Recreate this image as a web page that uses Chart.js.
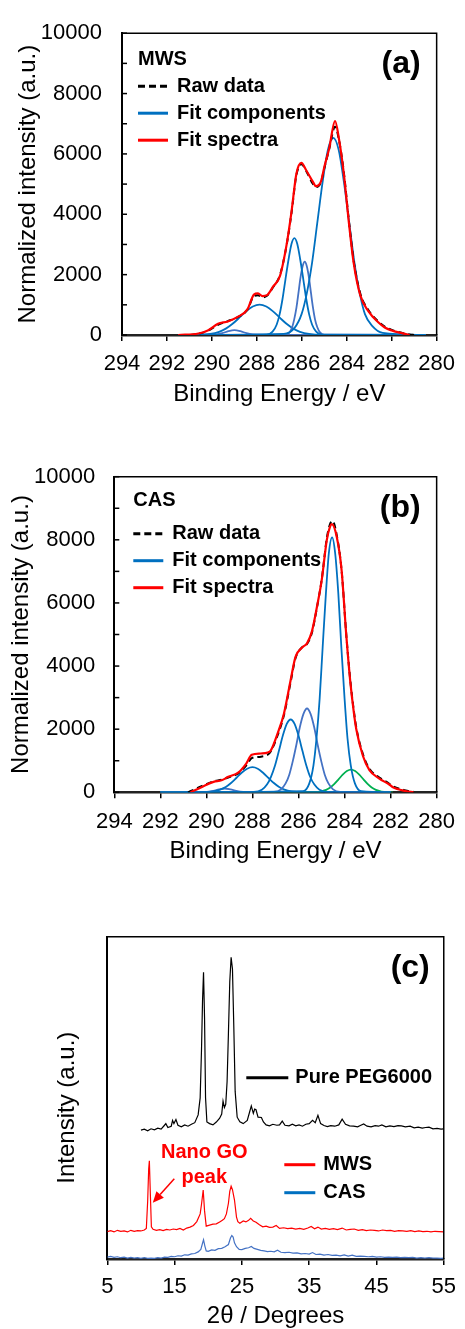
<!DOCTYPE html>
<html>
<head>
<meta charset="utf-8">
<script src="https://cdn.jsdelivr.net/npm/chart.js@4.4.1/dist/chart.umd.min.js"></script>
<style>
  body { margin: 0; background: #fff; }
  canvas { position: absolute; left: 0; }
</style>
</head>
<body>
<canvas id="xps-mws" width="465" height="420" style="top:0"></canvas>
<canvas id="xps-cas" width="465" height="440" style="top:430px"></canvas>
<canvas id="xrd" width="465" height="449" style="top:880px"></canvas>
<script>
// ---- (a) XPS MWS ----
const mwsFitE = [291.5, 290.6, 290.16, 289.73, 289.29, 288.85, 288.42, 288.13, 287.95, 287.75, 287.55, 287.28, 286.97, 286.67, 286.46, 286.24, 286.02, 285.8, 285.51, 285.37, 285.15, 285.0, 284.78, 284.52, 284.35, 284.13, 283.91, 283.69, 283.4, 283.04, 282.6, 282.31, 282.0, 281.6, 281.2];
const mwsFitI = [0, 50, 160, 370, 450, 600, 850, 1340, 1380, 1290, 1320, 1600, 1960, 3020, 4070, 5340, 5700, 5450, 5080, 4930, 5080, 5560, 6190, 7090, 6510, 5340, 3760, 2380, 1320, 790, 420, 250, 150, 70, 0];
const mwsRawE = [291.0, 290.6, 290.16, 289.73, 289.29, 288.85, 288.42, 288.13, 287.95, 287.75, 287.55, 287.28, 286.97, 286.67, 286.46, 286.24, 286.02, 285.8, 285.51, 285.37, 285.15, 285.0, 284.78, 284.52, 284.35, 284.13, 283.91, 283.69, 283.4, 283.04, 282.6, 282.31, 282.0, 281.6, 281.2, 281.0];
const mwsRawI = [0, 40, 150, 340, 460, 590, 840, 1290, 1320, 1250, 1300, 1580, 1990, 3000, 4030, 5300, 5660, 5430, 5010, 4900, 5060, 5520, 6160, 6900, 6480, 5400, 3820, 2450, 1380, 830, 450, 280, 170, 80, 20, 0];
const mwsC1E = [291.5, 286.8, 286.33, 286.01, 285.78, 285.54, 285.31, 285.07, 284.84, 284.6, 284.36, 284.13, 283.89, 283.66, 283.42, 283.19, 282.87, 282.4, 280.5];
const mwsC1I = [0, 40, 228, 691, 1371, 2410, 3722, 5087, 6135, 6530, 6135, 5087, 3722, 2410, 1371, 691, 300, 70, 0];
const mwsC2E = [291.5, 287.56, 287.30, 287.12, 286.99, 286.86, 286.73, 286.59, 286.46, 286.33, 286.20, 286.07, 285.93, 285.80, 285.67, 285.54, 285.36, 285.10, 280.5];
const mwsC2I = [0, 14, 112, 340, 674, 1184, 1830, 2501, 3016, 3210, 3016, 2501, 1830, 1184, 674, 340, 112, 14, 0];
const mwsC3E = [291.5, 286.74, 286.55, 286.43, 286.34, 286.24, 286.15, 286.06, 285.96, 285.87, 285.78, 285.68, 285.59, 285.50, 285.41, 285.31, 285.19, 285.00, 280.5];
const mwsC3I = [0, 11, 85, 257, 510, 897, 1385, 1893, 2283, 2430, 2283, 1893, 1385, 897, 510, 257, 85, 11, 0];
const mwsC4E = [291.5, 290.68, 290.08, 289.68, 289.38, 289.08, 288.78, 288.48, 288.18, 287.88, 287.58, 287.28, 286.98, 286.68, 286.38, 286.08, 285.68, 285.08, 280.5];
const mwsC4I = [0, 4, 35, 106, 211, 371, 573, 784, 945, 1006, 945, 784, 573, 371, 211, 106, 35, 4, 0];
const mwsC5E = [291.5, 290.26, 289.81, 289.54, 289.27, 289.0, 288.73, 288.46, 288.19, 287.74, 280.5];
const mwsC5I = [0, 1, 17, 59, 125, 160, 125, 59, 17, 1, 0];

// ---- (b) XPS CAS ----
const casFitE = [290.69, 290.19, 289.69, 289.34, 289.05, 288.62, 288.27, 288.03, 287.63, 287.34, 287.2, 286.91, 286.63, 286.34, 286.13, 285.84, 285.63, 285.42, 285.2, 284.99, 284.77, 284.63, 284.55, 284.34, 284.13, 283.92, 283.75, 283.6, 283.49, 283.2, 282.92, 282.49, 282.07, 281.92, 281.35, 281.0];
const casFitI = [0, 170, 330, 380, 490, 620, 910, 1190, 1230, 1260, 1330, 1860, 2500, 3560, 4290, 4590, 4720, 5090, 5870, 6730, 8000, 8420, 8500, 8100, 7050, 4930, 3500, 2550, 2000, 1150, 700, 435, 254, 170, 40, 0];
const casRawE = [290.8, 290.5, 290.19, 289.69, 289.34, 289.05, 288.62, 288.27, 288.03, 287.63, 287.34, 287.2, 286.91, 286.63, 286.34, 286.13, 285.84, 285.63, 285.42, 285.2, 284.99, 284.77, 284.63, 284.52, 284.34, 284.13, 283.92, 283.75, 283.6, 283.49, 283.2, 282.92, 282.49, 282.07, 281.92, 281.35, 281.0];
const casRawI = [0, 100, 200, 350, 400, 470, 600, 850, 1080, 1130, 1190, 1300, 1800, 2450, 3500, 4250, 4600, 4700, 5050, 5850, 6750, 8050, 8500, 8600, 8150, 7050, 4950, 3550, 2600, 2050, 1200, 750, 470, 280, 200, 60, 10];
const casC1E = [292, 285.80, 285.53, 285.35, 285.22, 285.08, 284.95, 284.81, 284.68, 284.54, 284.41, 284.27, 284.14, 284.00, 283.87, 283.73, 283.55, 283.28, 282];
const casC1I = [0, 35, 282, 855, 1697, 2982, 4606, 6294, 7591, 8080, 7591, 6294, 4606, 2982, 1697, 855, 282, 35, 0];
const casC2E = [292, 287.94, 287.59, 287.37, 287.20, 287.02, 286.85, 286.68, 286.51, 286.34, 286.17, 286.00, 285.83, 285.66, 285.49, 285.31, 285.09, 284.74, 282];
const casC2I = [0, 10, 81, 244, 484, 851, 1315, 1797, 2167, 2307, 2167, 1797, 1315, 851, 484, 244, 81, 10, 0];
const casC3E = [292, 287.07, 286.76, 286.56, 286.40, 286.25, 286.09, 285.94, 285.78, 285.63, 285.48, 285.32, 285.17, 285.01, 284.86, 284.70, 284.50, 284.19, 282];
const casC3I = [0, 12, 93, 281, 558, 980, 1514, 2069, 2495, 2656, 2495, 2069, 1514, 980, 558, 281, 93, 12, 0];
const casC4E = [292, 290.17, 289.71, 289.40, 289.16, 288.93, 288.70, 288.47, 288.23, 288.0, 287.77, 287.54, 287.30, 287.07, 286.84, 286.61, 286.30, 285.83, 282];
const casC4I = [0, 3, 28, 84, 167, 293, 453, 619, 747, 795, 747, 619, 453, 293, 167, 84, 28, 3, 0];
const casC5E = [292, 285.40, 285.04, 284.80, 284.62, 284.44, 284.26, 284.08, 283.90, 283.72, 283.54, 283.36, 283.18, 283.00, 282.82, 282.64, 282.40, 282.10, 281.9];
const casC5I = [0, 3, 25, 76, 151, 266, 410, 561, 676, 720, 676, 561, 410, 266, 151, 76, 25, 3, 0];
const casC6E = [292, 290.5, 290.0, 289.7, 289.45, 289.2, 288.95, 288.7, 288.4, 287.9, 282];
const casC6I = [0, 2, 12, 45, 90, 120, 90, 45, 12, 2, 0];

// ---- (c) DRX ----
const pegTheta = [10.0, 10.5, 11.0, 11.5, 12.0, 12.5, 13.0, 13.5, 13.7, 14.0, 14.5, 14.7, 14.9, 15.2, 15.5, 16.0, 16.5, 17.0, 17.5, 18.0, 18.5, 18.8, 19.0, 19.15, 19.3, 19.45, 19.6, 19.8, 20.2, 20.7, 21.2, 21.7, 22.0, 22.2, 22.4, 22.6, 22.8, 23.0, 23.2, 23.4, 23.6, 23.8, 24.0, 24.3, 24.7, 25.2, 25.8, 26.2, 26.4, 26.7, 26.9, 27.1, 27.4, 27.9, 28.2, 28.6, 29.1, 29.6, 30.2, 30.6, 31.0, 31.4, 32.0, 32.5, 33.0, 33.5, 34.0, 34.5, 35.0, 35.5, 35.9, 36.3, 36.7, 37.2, 37.7, 38.2, 38.8, 39.4, 39.9, 40.4, 41.0, 41.6, 42.2, 42.6, 43.1, 43.6, 44.2, 44.8, 45.3, 45.8, 46.4, 47.0, 47.6, 48.2, 48.7, 49.3, 50.0, 50.6, 51.2, 51.8, 52.3, 52.8, 53.4, 54.0, 54.6, 55.0];
const pegI = [40.0, 40.3, 39.8, 40.4, 40.1, 40.6, 40.3, 41.5, 42.0, 40.8, 41.2, 43.0, 42.0, 43.3, 41.5, 41.0, 41.6, 41.2, 41.8, 42.3, 44.7, 50, 65, 80, 89, 75, 50, 42.5, 42.0, 41.6, 42.5, 43.7, 45, 49, 47, 48, 55, 70, 86, 93.6, 90, 72, 52, 44, 42.6, 42.0, 43, 46, 47.5, 45.2, 46.5, 46.3, 44, 43.9, 42.5, 41.6, 41.3, 41.8, 41.5, 41.6, 42.8, 41.5, 41.3, 41.8, 41.3, 41.6, 41.2, 41.8, 42.0, 43.0, 42.3, 44.6, 42.0, 41.4, 41.1, 41.4, 41.2, 41.6, 43.4, 41.8, 41.3, 41.2, 41.0, 41.4, 41.9, 41.2, 41.0, 41.4, 41.2, 41.6, 41.0, 41.3, 41.1, 41.4, 41.3, 41.0, 41.2, 40.7, 40.9, 40.6, 40.8, 40.9, 40.4, 40.5, 40.3, 40.4];
const mwsTheta = [5.0, 5.5, 6.0, 6.5, 7.0, 7.5, 8.0, 8.5, 9.0, 9.5, 10.0, 10.5, 10.8, 11.0, 11.15, 11.25, 11.4, 11.55, 11.8, 12.3, 12.8, 13.3, 13.8, 14.3, 14.8, 15.3, 15.8, 16.3, 16.8, 17.3, 17.8, 18.3, 18.8, 19.0, 19.25, 19.45, 19.7, 20.2, 20.7, 21.2, 21.7, 22.1, 22.4, 22.7, 23.0, 23.2, 23.4, 23.6, 23.9, 24.2, 24.4, 24.7, 25.2, 25.6, 26.0, 26.3, 26.7, 27.1, 27.6, 28.1, 28.6, 29.1, 29.6, 30.1, 30.6, 31.2, 31.8, 32.4, 33.0, 33.6, 34.2, 34.8, 35.3, 35.8, 36.3, 36.8, 37.4, 38.0, 38.6, 39.2, 39.9, 40.5, 41.1, 41.7, 42.3, 42.9, 43.5, 44.1, 44.7, 45.3, 45.9, 46.5, 47.1, 47.7, 48.3, 48.9, 49.5, 50.1, 50.7, 51.3, 51.9, 52.5, 53.1, 53.7, 54.3, 55.0];
const mwsXrdI = [8.5, 8.8, 8.4, 8.9, 8.6, 8.7, 8.4, 8.9, 8.6, 8.8, 8.7, 9.0, 9.5, 18, 28, 30.5, 20, 10, 9.2, 8.9, 9.1, 8.8, 9.2, 9.0, 9.3, 9.1, 9.5, 9.0, 9.6, 9.9, 10.4, 11.6, 14, 17, 21.4, 15, 10.2, 10.5, 10.8, 10.9, 11.5, 12.0, 12.5, 14, 17.3, 21, 22.6, 21.5, 18.3, 13, 11.6, 11.1, 11.8, 11.5, 12.0, 12.6, 11.8, 11.4, 10.6, 10.0, 10.2, 9.8, 9.9, 10.4, 9.5, 9.7, 9.4, 9.6, 9.3, 9.5, 9.2, 9.6, 10.1, 9.4, 9.9, 9.3, 9.5, 9.2, 9.4, 9.1, 9.6, 9.0, 9.2, 9.3, 8.9, 9.1, 8.8, 9.0, 8.9, 8.7, 9.0, 8.8, 8.9, 8.6, 8.8, 8.7, 8.6, 8.8, 8.5, 8.7, 8.5, 8.6, 8.4, 8.6, 8.5, 8.4];
const casTheta = [5.0, 5.5, 6.0, 6.5, 7.0, 7.5, 8.0, 8.5, 9.0, 9.5, 10.0, 10.5, 11.0, 11.5, 12.0, 12.5, 13.0, 13.5, 14.0, 14.5, 15.0, 15.5, 16.0, 16.5, 17.0, 17.5, 18.0, 18.5, 18.9, 19.1, 19.3, 19.5, 19.7, 20.0, 20.5, 21.0, 21.5, 22.0, 22.5, 23.0, 23.3, 23.5, 23.7, 23.9, 24.2, 24.6, 25.0, 25.5, 26.0, 26.4, 26.8, 27.3, 27.8, 28.3, 28.8, 29.3, 29.8, 30.3, 30.8, 31.4, 32.0, 32.6, 33.2, 33.8, 34.4, 35.0, 35.5, 36.0, 36.6, 37.2, 37.8, 38.4, 39.0, 39.6, 40.2, 40.8, 41.4, 42.0, 42.6, 43.2, 43.8, 44.4, 45.0, 45.6, 46.2, 46.8, 47.4, 48.0, 48.6, 49.2, 49.8, 50.4, 51.0, 51.6, 52.2, 52.8, 53.4, 54.0, 54.6, 55.0];
const casXrdI = [0.6, 0.8, 0.5, 0.7, 0.4, 0.6, 0.3, 0.5, 0.3, 0.4, 0.2, 0.4, 0.2, 0.3, 0.2, 0.4, 0.3, 0.6, 0.5, 0.8, 0.7, 1.0, 0.9, 1.3, 1.2, 1.6, 1.7, 2.2, 3.0, 4.5, 6.0, 4.0, 2.5, 2.4, 2.8, 2.7, 3.2, 3.3, 3.8, 4.5, 6.5, 7.3, 6.8, 5.0, 3.8, 3.0, 2.9, 3.3, 3.5, 3.9, 3.3, 3.0, 2.7, 2.5, 2.3, 2.4, 2.2, 2.7, 2.1, 2.0, 2.1, 1.8, 1.9, 1.6, 1.7, 1.5, 2.0, 1.4, 1.5, 1.2, 1.4, 1.1, 1.2, 1.0, 1.3, 0.9, 1.2, 0.8, 0.9, 0.8, 0.7, 0.8, 0.6, 0.7, 0.5, 0.6, 0.5, 0.6, 0.4, 0.5, 0.4, 0.5, 0.3, 0.4, 0.3, 0.4, 0.3, 0.3, 0.2, 0.3];

const xpsMinorTicks = [0, 1000, 2000, 3000, 4000, 5000, 6000, 7000, 8000, 9000, 10000];
const xrdTicks = [5, 15, 25, 35, 45, 55];
const xpsLegend = ['Raw data', 'Fit components', 'Fit spectra'];

const FONT = '"Liberation Sans", Arial, sans-serif';
const RED = '#FF0000';
const BLUE = '#0070C0';
const BLUE_LIGHT = '#4472C4';
const GREEN = '#00B050';

const pts = (xs, ys) => xs.map((x, i) => ({ x, y: ys[i] }));

const fitLine = (xs, ys) => ({ data: pts(xs, ys), borderColor: RED, borderWidth: 2.2 });
const rawLine = (xs, ys) => ({ data: pts(xs, ys), borderColor: '#000', borderWidth: 2, borderDash: [6, 4] });
const compLine = (xs, ys, color) => ({ data: pts(xs, ys), borderColor: color, borderWidth: 1.8 });

function drawFrame(ctx, ca) {
    ctx.strokeStyle = '#000';
    ctx.lineWidth = 1.5;
    ctx.beginPath();
    ctx.moveTo(ca.left, ca.top);
    ctx.lineTo(ca.right, ca.top);
    ctx.lineTo(ca.right, ca.bottom);
    ctx.stroke();
}

function legendRow(ctx, x, y, len, color, dash, label, gap) {
    ctx.strokeStyle = color;
    ctx.lineWidth = 3;
    ctx.setLineDash(dash);
    ctx.beginPath();
    ctx.moveTo(x, y);
    ctx.lineTo(x + len, y);
    ctx.stroke();
    ctx.setLineDash([]);
    ctx.fillText(label, x + len + gap, y);
}

// Cadre, graduations internes, légende et étiquette du panneau
function xpsDecor(name, tag, lg) {
    return {
        id: 'xpsDecor',
        afterDraw(chart) {
            const { ctx, chartArea: ca, scales } = chart;
            ctx.save();
            drawFrame(ctx, ca);
            xpsMinorTicks.forEach(v => {
                const py = scales.y.getPixelForValue(v);
                ctx.beginPath();
                ctx.moveTo(ca.left, py);
                ctx.lineTo(ca.left + 5, py);
                ctx.stroke();
            });
            ctx.fillStyle = '#000';
            ctx.textBaseline = 'middle';
            ctx.textAlign = 'left';
            ctx.font = `bold 20px ${FONT}`;
            ctx.fillText(name, ca.left + lg.dx, ca.top + lg.titleY);
            const colors = ['#000', BLUE, RED];
            const dashes = [[7, 4], [], []];
            xpsLegend.forEach((label, i) => {
                legendRow(ctx, ca.left + lg.dx, ca.top + lg.rowY + i * 27, 30, colors[i], dashes[i], label, 9);
            });
            ctx.font = `bold 32px ${FONT}`;
            ctx.textAlign = 'right';
            ctx.fillText(tag, ca.right - 16, ca.top + 31);
            ctx.restore();
        }
    };
}

function xpsChart(id, datasets, box, decor) {
    return new Chart(document.getElementById(id), {
        type: 'line',
        data: { datasets },
        options: {
            responsive: false,
            animation: false,
            devicePixelRatio: 1,
            layout: { padding: { top: box.top, right: box.right, left: 0, bottom: 0 } },
            plugins: { legend: { display: false }, tooltip: { enabled: false } },
            elements: { point: { radius: 0 }, line: { cubicInterpolationMode: 'monotone' } },
            scales: {
                x: {
                    type: 'linear', reverse: true, min: 280, max: 294,
                    afterFit: s => { s.height = box.xh; },
                    ticks: { stepSize: 2, autoSkip: false, maxRotation: 0, padding: 10, color: '#000', font: { family: FONT, size: 22 } },
                    grid: { drawOnChartArea: false, tickLength: 6, color: '#000', lineWidth: 1.5 },
                    border: { color: '#222', width: 2.5 },
                    title: { display: true, text: 'Binding Energy / eV', color: '#000', font: { family: FONT, size: 24, lineHeight: 1 }, padding: { top: 0, bottom: box.xt } }
                },
                y: {
                    min: 0, max: 10000,
                    afterFit: s => { s.width = box.left; },
                    ticks: { stepSize: 2000, padding: box.yp, color: '#000', font: { family: FONT, size: 22 }, callback: v => String(v) },
                    grid: { drawOnChartArea: false, drawTicks: false },
                    border: { color: '#000', width: 2 },
                    title: { display: true, text: 'Normalized intensity (a.u.)', color: '#000', font: { family: FONT, size: 24, lineHeight: 1 }, padding: { top: box.yt, bottom: 0 } }
                }
            }
        },
        plugins: [decor]
    });
}

const xrdDecor = {
    id: 'xrdDecor',
    afterDraw(chart) {
        const { ctx, chartArea: ca } = chart;
        ctx.save();
        drawFrame(ctx, ca);
        ctx.fillStyle = '#000';
        ctx.textBaseline = 'middle';
        ctx.font = `bold 32px ${FONT}`;
        ctx.textAlign = 'right';
        ctx.fillText('(c)', ca.right - 14, ca.top + 31);

        ctx.textAlign = 'left';
        ctx.font = `bold 20px ${FONT}`;
        legendRow(ctx, ca.left + 139, ca.top + 141, 42, '#000', [], 'Pure PEG6000', 7);
        legendRow(ctx, ca.left + 177, ca.top + 228, 31, RED, [], 'MWS', 8);
        legendRow(ctx, ca.left + 177, ca.top + 256, 31, BLUE, [], 'CAS', 8);

        // annotation du pic GO
        ctx.fillStyle = RED;
        ctx.textAlign = 'center';
        ctx.fillText('Nano GO', ca.left + 97, ca.top + 216);
        ctx.fillText('peak', ca.left + 97, ca.top + 241);
        const x0 = ca.left + 67, y0 = ca.top + 242;
        const x1 = ca.left + 45.5, y1 = ca.top + 266;
        const len = Math.hypot(x1 - x0, y1 - y0);
        const ux = (x1 - x0) / len, uy = (y1 - y0) / len;
        const bx = x1 - ux * 11, by = y1 - uy * 11;
        ctx.strokeStyle = RED;
        ctx.lineWidth = 1.5;
        ctx.beginPath();
        ctx.moveTo(x0, y0);
        ctx.lineTo(bx, by);
        ctx.stroke();
        ctx.beginPath();
        ctx.moveTo(x1, y1);
        ctx.lineTo(bx - uy * 5, by + ux * 5);
        ctx.lineTo(bx + uy * 5, by - ux * 5);
        ctx.closePath();
        ctx.fill();

        // titre de l'axe y
        ctx.fillStyle = '#000';
        ctx.font = `24px ${FONT}`;
        ctx.translate(ca.left - 40, ca.top + 171);
        ctx.rotate(-Math.PI / 2);
        ctx.fillText('Intensity (a.u.)', 0, 0);
        ctx.restore();
    }
};

document.addEventListener('DOMContentLoaded', () => {
    xpsChart('xps-mws', [
        fitLine(mwsFitE, mwsFitI),
        rawLine(mwsRawE, mwsRawI),
        compLine(mwsC1E, mwsC1I, BLUE),
        compLine(mwsC2E, mwsC2I, BLUE),
        compLine(mwsC3E, mwsC3I, BLUE_LIGHT),
        compLine(mwsC4E, mwsC4I, BLUE),
        compLine(mwsC5E, mwsC5I, BLUE_LIGHT)
    ], { top: 20.7, right: 21.7, left: 122, xh: 85, xt: 14, yp: 20, yt: 16 },
       xpsDecor('MWS', '(a)', { dx: 16, titleY: 26, rowY: 53 }));

    xpsChart('xps-cas', [
        fitLine(casFitE, casFitI),
        rawLine(casRawE, casRawI),
        compLine(casC1E, casC1I, BLUE),
        compLine(casC2E, casC2I, BLUE),
        compLine(casC3E, casC3I, BLUE_LIGHT),
        compLine(casC4E, casC4I, BLUE),
        compLine(casC5E, casC5I, GREEN),
        compLine(casC6E, casC6I, BLUE_LIGHT)
    ], { top: 46.7, right: 23.3, left: 114.3, xh: 77.7, xt: 7, yp: 19, yt: 9 },
       xpsDecor('CAS', '(b)', { dx: 19, titleY: 24, rowY: 57 }));

    new Chart(document.getElementById('xrd'), {
        type: 'line',
        data: {
            datasets: [
                { data: pts(pegTheta, pegI), borderColor: '#000', borderWidth: 1.2 },
                { data: pts(mwsTheta, mwsXrdI), borderColor: RED, borderWidth: 1.2 },
                { data: pts(casTheta, casXrdI), borderColor: BLUE_LIGHT, borderWidth: 1.2 }
            ]
        },
        options: {
            responsive: false,
            animation: false,
            devicePixelRatio: 1,
            layout: { padding: { top: 56.7, right: 20, left: 0, bottom: 0 } },
            plugins: { legend: { display: false }, tooltip: { enabled: false } },
            elements: { point: { radius: 0 }, line: { tension: 0 } },
            scales: {
                x: {
                    type: 'linear', min: 5, max: 55,
                    afterFit: s => { s.height = 70; },
                    afterBuildTicks: s => { s.ticks = xrdTicks.map(v => ({ value: v })); },
                    ticks: { autoSkip: false, maxRotation: 0, padding: 9, color: '#000', font: { family: FONT, size: 22 } },
                    grid: { drawOnChartArea: false, tickLength: 6, color: '#000', lineWidth: 1.5 },
                    border: { color: '#222', width: 2.5 },
                    title: { display: true, text: '2θ / Degrees', color: '#000', font: { family: FONT, size: 24, lineHeight: 1 }, padding: { top: 0, bottom: 1 } }
                },
                y: {
                    min: 0, max: 100,
                    afterFit: s => { s.width = 107.3; },
                    ticks: { display: false },
                    grid: { drawOnChartArea: false, drawTicks: false },
                    border: { color: '#000', width: 2 }
                }
            }
        },
        plugins: [xrdDecor]
    });
});
</script>
</body>
</html>
